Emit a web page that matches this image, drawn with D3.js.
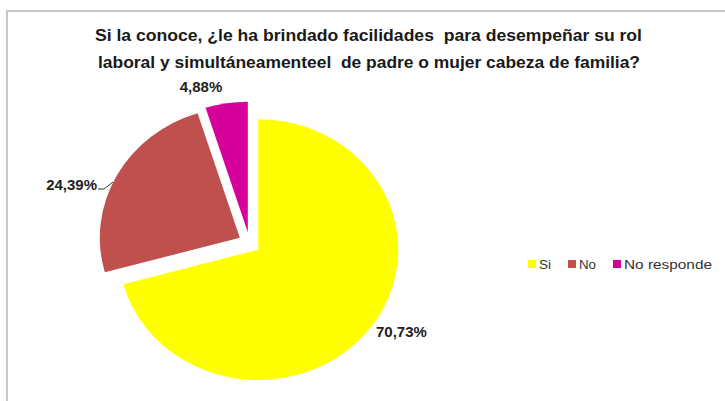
<!DOCTYPE html>
<html><head><meta charset="utf-8">
<script src="https://cdn.jsdelivr.net/npm/d3@7"></script>
<style>body{margin:0;background:#fff}svg{display:block}text{white-space:pre}</style>
</head><body>
<script>
const titleLines = ["Si la conoce, ¿le ha brindado facilidades  para desempeñar su rol", "laboral y simultáneamenteel  de padre o mujer cabeza de familia?"];
const categories = ["Si", "No", "No responde"];
const values = [70.73, 24.39, 4.88];
const labels = ["70,73%", "24,39%", "4,88%"];
const colors = ["#ffff00", "#c0504d", "#d6009a"];

const W = 725, H = 401;
const svg = d3.select("body").append("svg").attr("width", W).attr("height", H);
svg.append("rect").attr("x", 7).attr("y", 11).attr("width", W + 20).attr("height", H + 20)
  .attr("fill", "#fff").attr("stroke", "#c8c8c8").attr("stroke-width", 2);

const font = "'Liberation Sans', Arial, sans-serif";
const titleSpan = [[95, 547], [98, 542]];
svg.selectAll("text.title").data(titleLines).join("text").attr("class", "title")
  .attr("x", (d, i) => titleSpan[i][0]).attr("y", (d, i) => 41 + i * 27)
  .attr("textLength", (d, i) => titleSpan[i][1]).attr("lengthAdjust", "spacingAndGlyphs")
  .attr("font-family", font).attr("font-weight", "bold")
  .attr("font-size", 16).attr("fill", "#1a1a1a").text(d => d);

const cx = 249.5, cy = 243, ry = 130.5, rx = 140, explode = 11;
const sx = rx / ry;
const pie = d3.pie().sort(null).value(d => d)(values);
const arc = d3.arc().innerRadius(0).outerRadius(ry);
const g = svg.append("g");
g.selectAll("path").data(pie).join("path")
  .attr("transform", d => {
    const m = (d.startAngle + d.endAngle) / 2;
    return `translate(${cx + explode * Math.sin(m)},${cy - explode * Math.cos(m)}) scale(${sx},1)`;
  })
  .attr("d", arc).attr("fill", (d, i) => colors[i]);

// data labels
const labelPos = [[376, 337, "start"], [97, 190, "end"], [201, 92, "middle"]];
svg.selectAll("text.lbl").data(labels).join("text").attr("class", "lbl")
  .attr("x", (d, i) => labelPos[i][0]).attr("y", (d, i) => labelPos[i][1])
  .attr("text-anchor", (d, i) => labelPos[i][2])
  .attr("font-family", font).attr("font-weight", "bold").attr("font-size", 15)
  .attr("fill", "#222").text(d => d);
svg.append("path").attr("d", "M98,189 L104,189 L113,182").attr("fill", "none")
  .attr("stroke", "#333").attr("stroke-width", 1);

// legend
const legX = [528, 568, 613];
const legLen = [12, 17, 88];
const lg = svg.selectAll("g.leg").data(categories).join("g").attr("class", "leg")
  .attr("transform", (d, i) => `translate(${legX[i]},260)`);
lg.append("rect").attr("width", 8).attr("height", 8).attr("fill", (d, i) => colors[i]);
lg.append("text").attr("x", 11).attr("y", 9).attr("font-family", font)
  .attr("textLength", (d, i) => legLen[i]).attr("lengthAdjust", "spacingAndGlyphs")
  .attr("font-size", 13).attr("fill", "#333").text(d => d);
</script>
</body></html>
